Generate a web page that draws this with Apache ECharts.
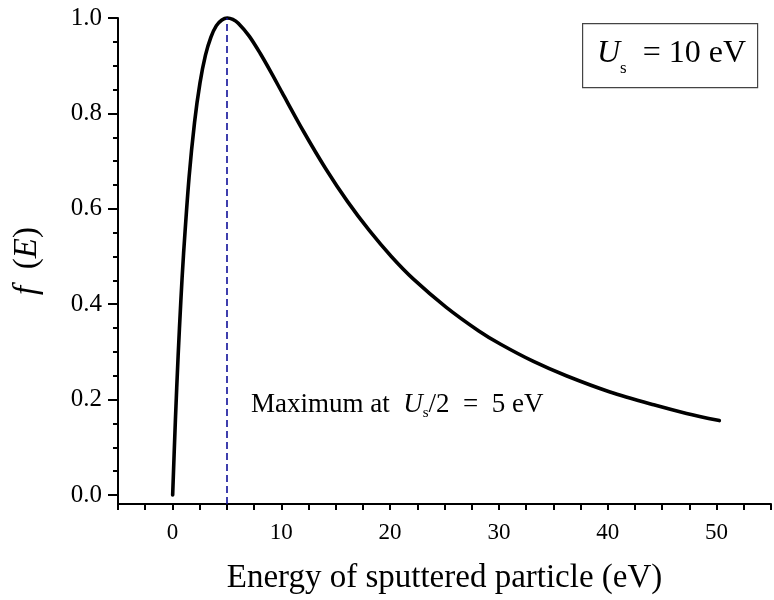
<!DOCTYPE html>
<html>
<head>
<meta charset="utf-8">
<script src="https://cdn.jsdelivr.net/npm/echarts@6/dist/echarts.min.js"></script>
<style>html,body{margin:0;padding:0;background:#fff;}#c{width:774px;height:600px;}</style>
</head>
<body>
<div id="c"></div>
<script>
// Energy of sputtered particle (eV)
var energy = [0, 0.25, 0.5, 0.75, 1, 1.5, 2, 2.5, 3, 3.5, 4, 4.5, 5, 5.5, 6, 7, 8, 9, 10, 12, 14, 16, 18, 20, 22, 25, 28, 30, 33, 36, 40, 44, 47, 50];
// Normalized distribution f(E)
var fE = [0, 0.157, 0.292, 0.408, 0.507, 0.666, 0.781, 0.864, 0.922, 0.960, 0.984, 0.996, 1.0, 0.997, 0.989, 0.962, 0.926, 0.886, 0.844, 0.761, 0.684, 0.615, 0.554, 0.500, 0.453, 0.394, 0.344, 0.316, 0.280, 0.250, 0.216, 0.189, 0.171, 0.156];
var peakEnergy = [5];
var xTickLabels = ['0', '10', '20', '30', '40', '50'];
var yTickLabels = ['0.0', '0.2', '0.4', '0.6', '0.8', '1.0'];

var FONT = '"Liberation Serif", "DejaVu Serif", serif';
var seriesData = energy.map(function (e, i) { return [e, fE[i]]; });

var chart = echarts.init(document.getElementById('c'), null, {renderer: 'canvas'});
var option = {
  backgroundColor: '#ffffff',
  animation: false,
  grid: [
    {left: 118, width: 660, top: 18, bottom: 105, containLabel: false},
    {left: 118, width: 660, top: 18, bottom: 95, containLabel: false}
  ],
  xAxis: [
    {gridIndex: 0, type: 'value', min: -5, max: 55, show: false},
    {
      gridIndex: 1, type: 'value', min: -5, max: 55, interval: 2.5,
      axisLine: {show: true, onZero: false, lineStyle: {color: '#000', width: 2}},
      axisTick: {show: true, length: 6, lineStyle: {color: '#000', width: 2}},
      splitLine: {show: false},
      axisLabel: {
        margin: 17, color: '#000', fontFamily: FONT, fontSize: 23,
        formatter: function (v) {
          var s = String(Math.round(v));
          return (Math.abs(v % 10) < 1e-9 && xTickLabels.indexOf(s) >= 0) ? s : '';
        }
      },
      name: 'Energy of sputtered particle (eV)',
      nameLocation: 'middle', nameGap: 58,
      nameTextStyle: {color: '#000', fontFamily: FONT, fontSize: 33}
    }
  ],
  yAxis: [
    {
      gridIndex: 0, type: 'value', min: 0, max: 1, interval: 0.2,
      axisLine: {show: false, onZero: false},
      axisTick: {show: true, length: 10, lineStyle: {color: '#000', width: 2}},
      minorTick: {show: true, splitNumber: 4, length: 5, lineStyle: {color: '#000', width: 2}},
      splitLine: {show: false},
      axisLabel: {
        margin: 16, color: '#000', fontFamily: FONT, fontSize: 25,
        formatter: function (v) {
          var s = v.toFixed(1);
          return yTickLabels.indexOf(s) >= 0 ? s : '';
        }
      }
    },
    {
      gridIndex: 1, type: 'value', min: 0, max: 1,
      axisLine: {show: true, onZero: false, lineStyle: {color: '#000', width: 2}},
      axisTick: {show: false}, axisLabel: {show: false}, splitLine: {show: false},
      name: '{i|f}  ({i|E})',
      nameLocation: 'middle', nameGap: 74,
      nameTextStyle: {
        color: '#000', fontFamily: FONT, fontSize: 33,
        rich: {i: {fontStyle: 'italic', fontFamily: FONT, fontSize: 33, color: '#000'}}
      }
    }
  ],
  series: [
    {
      type: 'line', xAxisIndex: 1, yAxisIndex: 1, data: [],
      silent: true,
      markLine: {
        silent: true, symbol: ['none', 'none'], label: {show: false},
        lineStyle: {color: '#10109a', width: 1.6, type: [7, 4]},
        data: peakEnergy.map(function (e) { return {xAxis: e}; })
      }
    },
    {
      type: 'line', xAxisIndex: 0, yAxisIndex: 0, data: seriesData,
      smooth: 0.3, symbol: 'none', clip: false,
      lineStyle: {color: '#000', width: 3.6, cap: 'round', join: 'round'}
    }
  ],
  graphic: [
    {
      type: 'rect', left: 582, top: 23, z: 10,
      shape: {width: 175, height: 64},
      style: {fill: '#fff', stroke: '#444', lineWidth: 1.2}
    },
    {
      type: 'text', z: 11, left: 597, top: 38,
      style: {
        text: '{u|U}{s|s}{n|  = 10 eV}',
        rich: {
          u: {fontFamily: FONT, fontStyle: 'italic', fontSize: 32, color: '#000', lineHeight: 46, verticalAlign: 'middle'},
          s: {fontFamily: FONT, fontSize: 17, color: '#000', lineHeight: 14, verticalAlign: 'bottom'},
          n: {fontFamily: FONT, fontSize: 32, color: '#000', lineHeight: 46, verticalAlign: 'middle'}
        }
      }
    },
    {
      type: 'text', z: 11, left: 251, top: 391,
      style: {
        text: '{n|Maximum at  }{u|U}{s|s}{n|/2  =  5 eV}',
        rich: {
          n: {fontFamily: FONT, fontSize: 27, color: '#000', lineHeight: 33, verticalAlign: 'middle'},
          u: {fontFamily: FONT, fontStyle: 'italic', fontSize: 27, color: '#000', lineHeight: 33, verticalAlign: 'middle'},
          s: {fontFamily: FONT, fontSize: 15, color: '#000', lineHeight: 12, verticalAlign: 'bottom'}
        }
      }
    }
  ]
};
chart.setOption(option);
</script>
</body>
</html>
